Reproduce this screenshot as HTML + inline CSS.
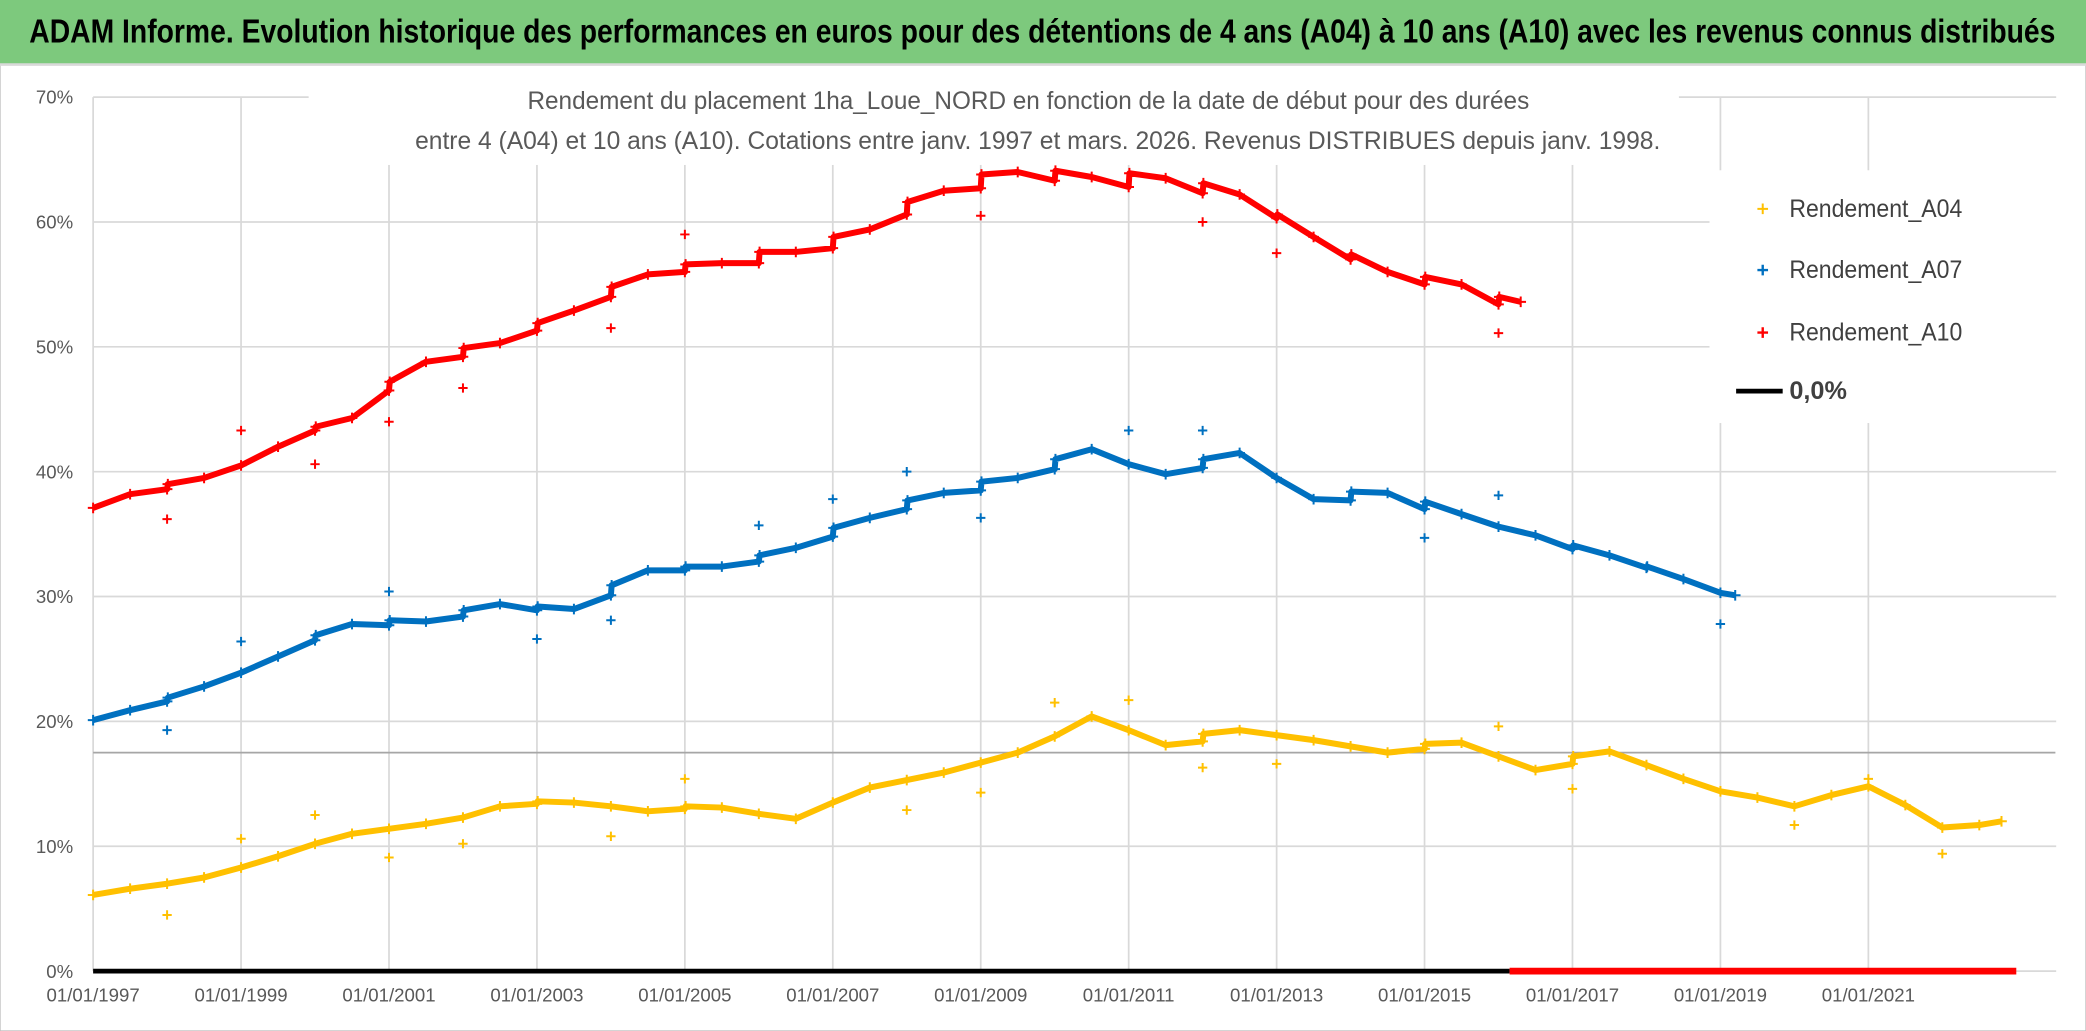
<!DOCTYPE html>
<html><head><meta charset="utf-8"><style>
html,body{margin:0;padding:0;background:#fff;}
svg{display:block;}
text{font-family:"Liberation Sans Narrow","Liberation Sans",sans-serif;}
</style></head><body>
<svg id="chart" width="2086" height="1031" viewBox="0 0 1568 775" preserveAspectRatio="none" xmlns="http://www.w3.org/2000/svg">
<rect x="0" y="0" width="1568" height="775" fill="#fff" stroke="#bfbfbf" stroke-width="1"/>
<rect x="0" y="0" width="1568" height="48" fill="#7dc97d"/>
<line x1="0" y1="48.5" x2="1568" y2="48.5" stroke="#d9d9d9" stroke-width="2"/>
<text x="22" y="32" font-size="25" font-weight="bold" fill="#000" textLength="1523" lengthAdjust="spacingAndGlyphs">ADAM Informe. Evolution historique des performances en euros pour des détentions de 4 ans (A04) à 10 ans (A10) avec les revenus connus distribués</text>
<g id="grid"></g>
<g id="series"></g>
<rect x="232" y="58" width="1030" height="66" fill="#fff"/>
<text x="773" y="82" font-size="19" fill="#595959" text-anchor="middle" textLength="753" lengthAdjust="spacingAndGlyphs">Rendement du placement 1ha_Loue_NORD en fonction de la date de début pour des durées</text>
<text x="780" y="112" font-size="19" fill="#595959" text-anchor="middle" textLength="936" lengthAdjust="spacingAndGlyphs">entre 4 (A04) et 10 ans (A10). Cotations entre janv. 1997 et mars. 2026. Revenus DISTRIBUES depuis janv. 1998.</text>
<g>
<rect x="1285" y="128" width="262" height="190" fill="#fff"/>
<g><path d="M1321 157h8M1325 153v8" stroke="#ffc000" stroke-width="1.5"/><text x="1345" y="163" font-size="19" fill="#404040" textLength="130" lengthAdjust="spacingAndGlyphs">Rendement_A04</text></g>
<g><path d="M1321 203h8M1325 199v8" stroke="#0070c0" stroke-width="1.8"/><text x="1345" y="209" font-size="19" fill="#404040" textLength="130" lengthAdjust="spacingAndGlyphs">Rendement_A07</text></g>
<g><path d="M1321 250h8M1325 246v8" stroke="#ff0000" stroke-width="1.8"/><text x="1345" y="256" font-size="19" fill="#404040" textLength="130" lengthAdjust="spacingAndGlyphs">Rendement_A10</text></g>
<g><line x1="1305" y1="294" x2="1340" y2="294" stroke="#000" stroke-width="3.5"/><text x="1345" y="300" font-size="19" fill="#404040" font-weight="bold">0,0%</text></g>
</g>
</svg>
<script>
const yTicks=[0,10,20,30,40,50,60,70];
const xTickYears=[1997,1999,2001,2003,2005,2007,2009,2011,2013,2015,2017,2019,2021];
const a10Years=[1997,1997.5,1998,1998.01,1998.5,1999,1999.5,2000,2000.01,2000.5,2001,2001.01,2001.5,2002,2002.01,2002.5,2003,2003.01,2003.5,2004,2004.01,2004.5,2005,2005.01,2005.5,2006,2006.01,2006.5,2007,2007.01,2007.5,2008,2008.01,2008.5,2009,2009.01,2009.5,2010,2010.01,2010.5,2011,2011.01,2011.5,2012,2012.01,2012.5,2013,2013.01,2013.5,2014,2014.01,2014.5,2015,2015.01,2015.5,2016,2016.01,2016.3];
const a10Values=[37.1,38.2,38.6,39.0,39.5,40.5,42.0,43.3,43.6,44.3,46.5,47.2,48.8,49.2,49.9,50.3,51.3,51.9,52.9,54.0,54.8,55.8,56.0,56.6,56.7,56.7,57.6,57.6,57.9,58.8,59.4,60.6,61.6,62.5,62.7,63.8,64.0,63.3,64.1,63.6,62.8,63.9,63.5,62.3,63.1,62.2,60.3,60.6,58.8,57.0,57.4,56.0,55.0,55.6,55.0,53.4,54.0,53.6];
const a10OutYears=[1998,1999,2000,2001,2002,2004,2005,2009,2012,2013,2016];
const a10OutValues=[36.2,43.3,40.6,44.0,46.7,51.5,59.0,60.5,60.0,57.5,51.1];
const a07Years=[1997,1997.5,1998,1998.01,1998.5,1999,1999.5,2000,2000.01,2000.5,2001,2001.01,2001.5,2002,2002.01,2002.5,2003,2003.01,2003.5,2004,2004.01,2004.5,2005,2005.01,2005.5,2006,2006.01,2006.5,2007,2007.01,2007.5,2008,2008.01,2008.5,2009,2009.01,2009.5,2010,2010.01,2010.5,2011,2011.5,2012,2012.01,2012.5,2013,2013.5,2014,2014.01,2014.5,2015,2015.01,2015.5,2016,2016.5,2017,2017.01,2017.5,2018,2018.01,2018.5,2019,2019.2];
const a07Values=[20.1,20.9,21.6,21.9,22.8,23.9,25.2,26.5,26.9,27.8,27.7,28.1,28.0,28.4,28.9,29.4,28.9,29.2,29.0,30.1,30.9,32.1,32.1,32.4,32.4,32.8,33.3,33.9,34.8,35.5,36.3,37.0,37.7,38.3,38.5,39.2,39.5,40.2,41.0,41.8,40.6,39.8,40.3,41.0,41.5,39.5,37.8,37.7,38.4,38.3,37.0,37.6,36.6,35.6,34.9,33.8,34.1,33.3,32.3,32.4,31.4,30.3,30.1];
const a07OutYears=[1998,1999,2001,2003,2004,2006,2007,2008,2009,2011,2012,2015,2016,2019];
const a07OutValues=[19.3,26.4,30.4,26.6,28.1,35.7,37.8,40.0,36.3,43.3,43.3,34.7,38.1,27.8];
const a04Years=[1997,1997.5,1998,1998.5,1999,1999.5,2000,2000.5,2001,2001.5,2002,2002.5,2003,2003.01,2003.5,2004,2004.5,2005,2005.01,2005.5,2006,2006.5,2007,2007.5,2008,2008.5,2009,2009.5,2010,2010.5,2011,2011.5,2012,2012.01,2012.5,2013,2013.5,2014,2014.5,2015,2015.01,2015.5,2016,2016.5,2017,2017.01,2017.5,2018,2018.5,2019,2019.5,2020,2020.5,2021,2021.5,2022,2022.5,2022.8];
const a04Values=[6.1,6.6,7.0,7.5,8.3,9.2,10.2,11.0,11.4,11.8,12.3,13.2,13.4,13.6,13.5,13.2,12.8,13.0,13.2,13.1,12.6,12.2,13.5,14.7,15.3,15.9,16.7,17.5,18.8,20.4,19.3,18.1,18.4,19.0,19.3,18.9,18.5,18.0,17.5,17.8,18.2,18.3,17.2,16.1,16.6,17.2,17.6,16.5,15.4,14.4,13.9,13.2,14.1,14.8,13.3,11.5,11.7,12.0];
const a04OutYears=[1998,1999,2000,2001,2002,2004,2005,2008,2009,2010,2011,2012,2013,2016,2017,2020,2021,2022];
const a04OutValues=[4.5,10.6,12.5,9.1,10.2,10.8,15.4,12.9,14.3,21.5,21.7,16.3,16.6,19.6,14.6,11.7,15.4,9.4];
const refLineValue=[17.5];
const a10ZeroRange=[2016.15,2023];

const NS="http://www.w3.org/2000/svg";
const X0=70,PX_YEAR=55.6,Y0=730,PX_PCT=9.386;
function xs(yr){return X0+(yr-1997)*PX_YEAR;}
function ys(v){return Y0-v*PX_PCT;}
function mk(tag,attrs,parent){const e=document.createElementNS(NS,tag);for(const k in attrs)e.setAttribute(k,attrs[k]);parent.appendChild(e);return e;}
const grid=document.getElementById('grid');
const ser=document.getElementById('series');
const XEND=xs(2023)+30;
yTicks.forEach(v=>{
  const l=mk('line',{x1:X0,x2:XEND,y1:ys(v),y2:ys(v),stroke:'#d9d9d9','stroke-width':1.3},grid);
  
  
  const t=mk('text',{x:55,y:ys(v)+5,'font-size':14,fill:'#595959','text-anchor':'end'},grid);
  t.textContent=v+'%';
  
  
});
xTickYears.forEach(yr=>{
  const l=mk('line',{x1:xs(yr),x2:xs(yr),y1:ys(70),y2:Y0,stroke:'#d9d9d9','stroke-width':1.3},grid);
  
  
  const t=mk('text',{x:xs(yr),y:753,'font-size':14,fill:'#595959','text-anchor':'middle'},grid);
  t.textContent='01/01/'+yr;
  
  
});
const ref=mk('line',{x1:X0,x2:1545,y1:ys(refLineValue[0]),y2:ys(refLineValue[0]),stroke:'#a6a6a6','stroke-width':1.3},grid);



function series(name,years,vals,oy,ov,color){
  const pts=years.map((y,i)=>xs(y)+','+ys(vals[i])).join(' ');
  const pl=mk('polyline',{points:pts,fill:'none',stroke:color,'stroke-width':4.5,'stroke-linejoin':'round'},ser);
  
  
  years.forEach((y,i)=>{
    const cx=xs(y),cy=ys(vals[i]);
    const p=mk('path',{d:`M${cx-4} ${cy}h8M${cx} ${cy-4}v8`,stroke:color,'stroke-width':1.5},ser);
    
    
  });
  oy.forEach((y,i)=>{
    const cx=xs(y),cy=ys(ov[i]);
    const p=mk('path',{d:`M${cx-3.5} ${cy}h7M${cx} ${cy-3.5}v7`,stroke:color,'stroke-width':1.5},ser);
    
    
  });
}
const zl=mk('line',{x1:X0,x2:xs(a10ZeroRange[0]),y1:Y0,y2:Y0,stroke:'#000','stroke-width':3.5},ser);


const zr=mk('line',{x1:xs(a10ZeroRange[0]),x2:xs(a10ZeroRange[1]),y1:Y0,y2:Y0,stroke:'#ff0000','stroke-width':5},ser);


series('a04',a04Years,a04Values,a04OutYears,a04OutValues,'#ffc000');
series('a07',a07Years,a07Values,a07OutYears,a07OutValues,'#0070c0');
series('a10',a10Years,a10Values,a10OutYears,a10OutValues,'#ff0000');
</script>
</body></html>
